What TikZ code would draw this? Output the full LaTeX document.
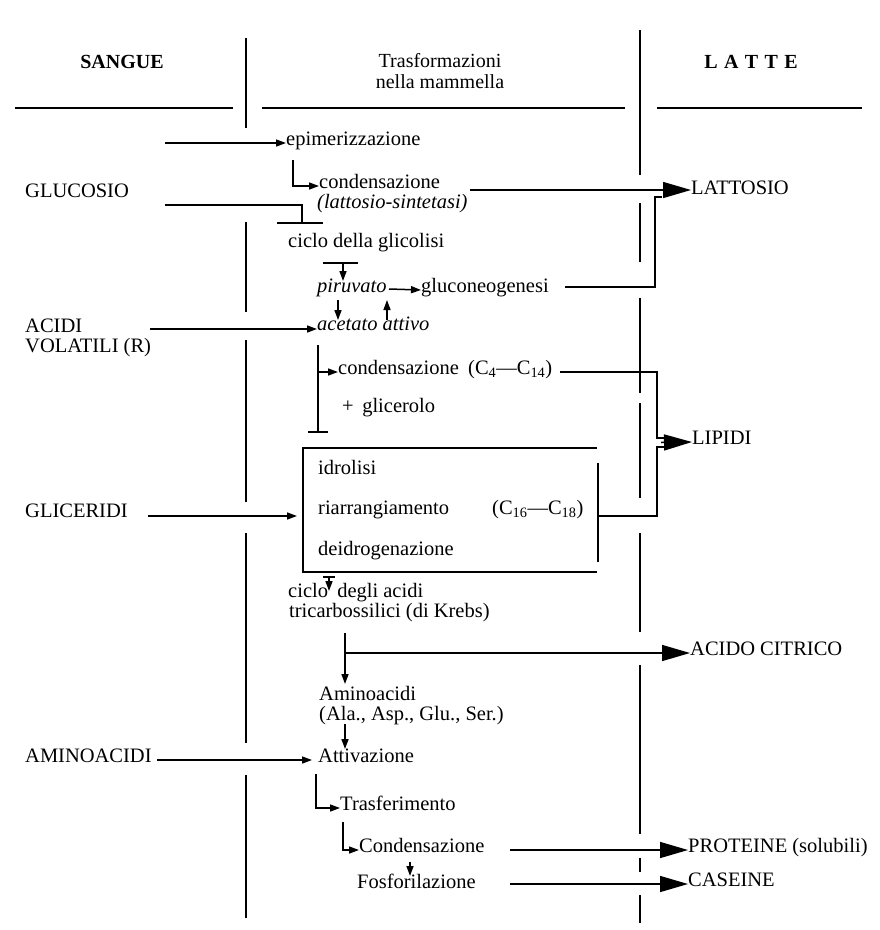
\documentclass[tikz,border=0pt]{standalone}
\usepackage{fontspec}
\setmainfont{Liberation Serif}
\usetikzlibrary{arrows.meta}
\begin{document}
\begin{tikzpicture}[x=1pt,y=-1pt,
  txt/.style={anchor=west,inner sep=0pt,text height=0.7em,text depth=0.2em,font=\fontsize{20.5}{22}\selectfont},
  hdr/.style={inner sep=0pt,font=\fontsize{20}{22}\selectfont\bfseries},
  ln/.style={line width=1.5pt},
  divl/.style={line width=2pt},
  sarr/.style={ln,-{Triangle[length=10pt,width=7pt]}},
  barr/.style={ln,-{Triangle[length=28pt,width=16pt]}},
]
\useasboundingbox (0,0) rectangle (880,930);
% headers
\node[hdr] (sangue) at (122,62) {SANGUE};
\node[inner sep=0pt,align=center,font=\fontsize{20}{21}\selectfont] (trasf) at (440,71) {Trasformazioni\\nella mammella};
\node[hdr] (latte) at (751,62) {L\hspace{0.32em}A\hspace{0.32em}T\hspace{0.32em}T\hspace{0.32em}E};
\draw[divl] (15,108) -- (233,108);
\draw[divl] (262,108) -- (625,108);
\draw[divl] (657,108) -- (862,108);
% dividers
\foreach \a/\b in {38/128,222/312,340/502,533/743,775/918}
  \draw[divl] (246,\a) -- (246,\b);
\foreach \a/\b in {30/175,203/262,298/393,403/498,533/632,665/834,858/872,895/923}
  \draw[divl] (640,\a) -- (640,\b);
% left labels
\node[txt] (gluc) at (25,195) {GLUCOSIO};
\node[txt] (acidi) at (25,330) {ACIDI};
\node[txt] (volat) at (25,350) {VOLATILI (R)};
\node[txt] (glic) at (25,515) {GLICERIDI};
\node[txt] (amino) at (25,760) {AMINOACIDI};
% middle
\node[txt] (epi) at (286,143) {epimerizzazione};
\node[txt] (cond1) at (319,186) {condensazione};
\node[txt] (lsint) at (317,206) {\textit{(lattosio-sintetasi)}};
\node[txt] (glicol) at (288,245) {ciclo della glicolisi};
\node[txt] (piruv) at (317,290) {\textit{piruvato}};
\node[txt] (glucon) at (421,290) {gluconeogenesi};
\node[txt] (acet) at (317,328) {\textit{acetato attivo}};
\node[txt] (cond2) at (338,372) {condensazione};
\node[txt] (c414) at (468,372) {(C\textsubscript{4}—C\textsubscript{14})};
\node[txt] (glicer) at (342,410) {+\, glicerolo};
\node[txt] (idrol) at (318,472) {idrolisi};
\node[txt] (riarr) at (318,512) {riarrangiamento};
\node[txt] (c1618) at (492,512) {(C\textsubscript{16}—C\textsubscript{18})};
\node[txt] (deidr) at (318,553) {deidrogenazione};
\node[txt] (krebs1) at (288,595) {ciclo\hspace{0.45em}degli acidi};
\node[txt] (krebs2) at (289,615) {tricarbossilici (di Krebs)};
\node[txt] (aminoac) at (319,698) {Aminoacidi};
\node[txt] (alaasp) at (319,718) {(Ala., Asp., Glu., Ser.)};
\node[txt] (attiv) at (318,760) {Attivazione};
\node[txt] (trasfer) at (340,808) {Trasferimento};
\node[txt] (condens) at (359,850) {Condensazione};
\node[txt] (fosfo) at (357,886) {Fosforilazione};
% right labels
\node[txt] (lattosio) at (691,192) {LATTOSIO};
\node[txt] (lipidi) at (692,442) {LIPIDI};
\node[txt] (citrico) at (690,653) {ACIDO CITRICO};
\node[txt] (proteine) at (688,850) {PROTEINE (solubili)};
\node[txt] (caseine) at (688,884) {CASEINE};
% connectors: lattosio
\coordinate (e0) at (165,143);
\draw[sarr] (e0) -- (epi.west);
\coordinate (e1) at (293,160);
\draw[sarr] (e1) |- (cond1.west);
\coordinate (g0) at (165,205);
\coordinate (g1) at (302,223);
\draw[ln] (g0) -| (g1);
\draw[ln] (277,223) -- (323,223);
\coordinate (c1) at (470,190);
\draw[barr] (c1) -- (lattosio.west |- c1);
\coordinate (gn0) at (565,287);
\coordinate (gn1) at (655,197);
\draw[ln] (gn0) -| (gn1) -- (662,197);
% glicolisi
\draw[ln] (323,263) -- (358,263);
\draw[sarr] (343,263) -- (343,281);
\draw[sarr] (389,289) -- (glucon.west);
\draw[sarr] (338,300) -- (338,320);
\draw[sarr] (387,320) -- (387,300);
\coordinate (a0) at (150,329);
\draw[sarr] (a0) -- (acet.west |- a0);
% lipidi
\draw[ln] (318,345) -- (318,432);
\draw[ln] (308,432) -- (328,432);
\draw[sarr] (318,372) -- (cond2.west);
\coordinate (l0) at (560,372);
\coordinate (l1) at (657,438);
\draw[ln] (l0) -| (l1) -- (665,438);
\coordinate (l2) at (598,516);
\coordinate (l3) at (657,447);
\draw[ln] (l2) -| (l3) -- (665,447);
\draw[barr] (661,442.5) -- (lipidi.west);
% box
\draw[ln] (597,448) -- (303,448) -- (303,572) -- (597,572);
\draw[ln] (598,463) -- (598,562);
\coordinate (gl0) at (148,516);
\draw[sarr] (gl0) -- (297,516);
% krebs
\draw[ln] (323,577) -- (335,577);
\draw[sarr] (329,577) -- (329,591);
\draw[sarr] (345,633) -- (345,684);
\coordinate (k1) at (345,653);
\draw[barr] (k1) -- (citrico.west |- k1);
% proteine
\draw[sarr] (345,724) -- (345,749);
\coordinate (am0) at (157,760);
\draw[sarr] (am0) -- (312,760);
\draw[sarr] (316,774) |- (trasfer.west);
\draw[sarr] (343,822) |- (condens.west);
\draw[sarr] (410,862) -- (410,876);
\draw[barr] (510,850) -- (proteine.west);
\draw[barr] (510,884) -- (caseine.west);
\end{tikzpicture}
\end{document}
